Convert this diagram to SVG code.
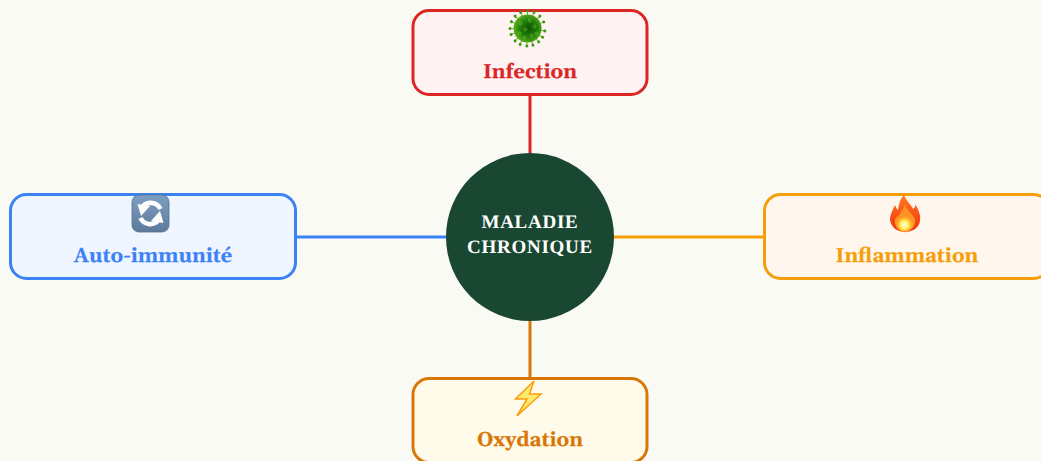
<svg xmlns="http://www.w3.org/2000/svg" width="1041" height="461" viewBox="0 0 1041 461">
<style>
.bx{stroke-width:3}
.lb{font-family:Georgia,"Gelasio","Liberation Serif",serif;font-weight:700;font-size:20px;text-anchor:middle;text-rendering:geometricPrecision;stroke-width:.25px}
.ct{font-family:"Liberation Serif",serif;font-weight:700;font-size:19px;letter-spacing:.75px;text-anchor:middle;fill:#fff;text-rendering:geometricPrecision}
.c{fill:none;stroke-width:3}
.sw{fill:none;stroke:#fff;stroke-width:4.500}
</style>
<defs>
<radialGradient id="vb" cx=".55" cy=".5" r=".55"><stop offset="0" stop-color="#0c5504"/><stop offset=".55" stop-color="#217f0a"/><stop offset="1" stop-color="#5cb31a"/></radialGradient>
<linearGradient id="sq" x1="0" y1="0" x2="0" y2="1"><stop offset="0" stop-color="#7f9fc2"/><stop offset="1" stop-color="#5c7b9b"/></linearGradient>
<linearGradient id="fl" x1="0" y1="0" x2="0" y2="1"><stop offset="0" stop-color="#ff7a22"/><stop offset="1" stop-color="#f0300c"/></linearGradient>
<radialGradient id="fy" cx=".5" cy=".55" r=".5"><stop offset="0" stop-color="#fffff0"/><stop offset=".5" stop-color="#ffe94a"/><stop offset="1" stop-color="#ffb024" stop-opacity="0"/></radialGradient>
<g id="sp"><line x1="13" y1="0" x2="17" y2="0" stroke="#62b81e" stroke-width="1"/><circle cx="17.500" cy="0" r="1.500" fill="#3c9a0c"/></g>
<circle id="sk" r="1.300" fill="none" stroke="#7cc832" stroke-width=".6"/>
</defs>
<rect width="1041" height="461" fill="#fafaf5"/>
<g id="connectors">
<line class="c" x1="530" y1="95" x2="530" y2="153" stroke="#dc2626"/>
<line class="c" x1="296" y1="237" x2="447" y2="237" stroke="#3b82f6"/>
<line class="c" x1="613" y1="237" x2="764" y2="237" stroke="#f59e0b"/>
<line class="c" x1="530" y1="321" x2="530" y2="379" stroke="#d97706"/>
</g>
<g id="center"><circle cx="530" cy="237" r="84" fill="#1a4731"/>
<text class="ct" x="530" y="228">MALADIE</text><text class="ct" x="530" y="253">CHRONIQUE</text></g>
<g id="infection"><rect class="bx" x="413" y="10.500" width="234" height="84" rx="16" fill="#fef2f2" stroke="#dc2626"/>
<g transform="translate(527.500 28.500)">
<use href="#sp" transform="rotate(8)"/><use href="#sp" transform="rotate(30)"/><use href="#sp" transform="rotate(50)"/><use href="#sp" transform="rotate(72)"/><use href="#sp" transform="rotate(92)"/><use href="#sp" transform="rotate(115)"/><use href="#sp" transform="rotate(135)"/><use href="#sp" transform="rotate(160)"/><use href="#sp" transform="rotate(180)"/><use href="#sp" transform="rotate(203)"/><use href="#sp" transform="rotate(225)"/><use href="#sp" transform="rotate(247)"/><use href="#sp" transform="rotate(270)"/><use href="#sp" transform="rotate(292)"/><use href="#sp" transform="rotate(315)"/><use href="#sp" transform="rotate(338)"/>
<circle r="14" fill="url(#vb)"/>
<use href="#sk" x="-7" y="-5"/><use href="#sk" x="2" y="-8"/><use href="#sk" x="7" y="-2"/><use href="#sk" x="-2" y="1"/><use href="#sk" x="-8" y="5"/><use href="#sk" x="4" y="7"/><use href="#sk" x="9" y="5"/><use href="#sk" x="-3" y="9"/></g>
<text class="lb" x="530" y="78" fill="#dc2626" stroke="#dc2626">Infection</text></g>
<g id="auto-immunite"><rect class="bx" x="10.500" y="194.500" width="285" height="84" rx="16" fill="#eff6ff" stroke="#3b82f6"/>
<rect x="132" y="195" width="37" height="37" rx="7" fill="url(#sq)" stroke="#56718e" stroke-width=".8"/>
<path class="sw" d="M160.500 209A11 11 0 0 0 143 206"/><path class="sw" d="M140.500 218A11 11 0 0 0 158 221"/>
<path d="M137.500 204L150 206L141 216Z" fill="#fff"/><path d="M163.500 223L151 221L160 211Z" fill="#fff"/>
<text class="lb" x="153" y="262" fill="#3b82f6" stroke="#3b82f6">Auto-immunité</text></g>
<g id="inflammation"><rect class="bx" x="764.500" y="194.500" width="285" height="84" rx="16" fill="#fff7ed" stroke="#f59e0b"/>
<path d="M904 195C906 201 911 204 913 209C915 208 915.500 206 915 204C919 210 921 216 920 221C919 228 912 232 905 232C897 232 891 227 890 220C890 214 893 210 895 205C896 208 897 209 898 210C899 204 900 199 904 195Z" fill="url(#fl)"/>
<path d="M905 204C906 210 913 214 915 219C916 226 912 231 905 231C898 231 894 226 895 220C896 216 898 217 900 214C901 211 904 209 905 204Z" fill="#ff9226"/>
<ellipse cx="904.500" cy="224" rx="9" ry="9" fill="url(#fy)"/>
<text class="lb" x="907" y="262" fill="#f59e0b" stroke="#f59e0b">Inflammation</text></g>
<g id="oxydation"><rect class="bx" x="413" y="378.500" width="234" height="84" rx="16" fill="#fffbeb" stroke="#d97706"/>
<path d="M534 381L515.500 399L527 399L517 416L541 394L529.500 394Z" fill="#ffea70" stroke="#fb9d0f" stroke-width="1.500" stroke-linejoin="miter"/>
<text class="lb" x="530" y="446" fill="#d97706" stroke="#d97706">Oxydation</text></g>
</svg>
